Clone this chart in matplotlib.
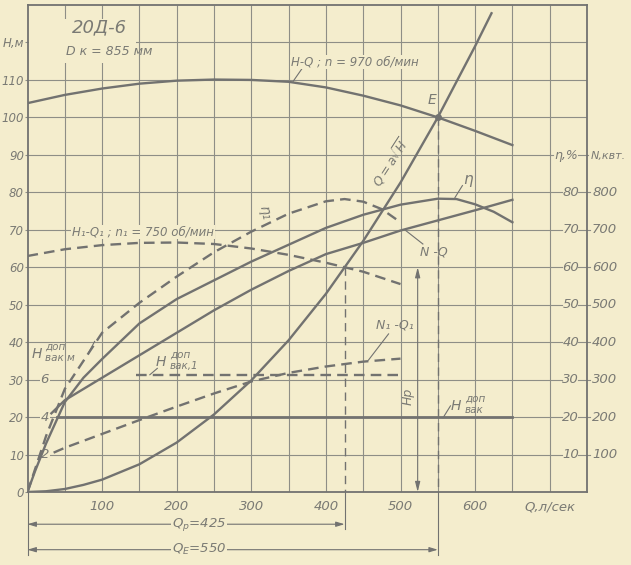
import matplotlib

matplotlib.use("Agg")
import matplotlib.pyplot as plt
from matplotlib import font_manager
from matplotlib.patches import Rectangle

# --- данные (Q в л/сек, H в м, N в квт, η в %) ---

# H-Q при n = 970 об/мин
q_hq = [0, 50, 100, 150, 200, 250, 300, 350, 400, 450, 500, 550, 600, 650]
h_hq = [103.8, 106.0, 107.7, 109.0, 109.8, 110.1, 110.0, 109.5, 108.0, 105.8, 103.2, 100.0, 96.4, 92.6]

# кривая Q = a*sqrt(H)
q_sys = [0, 25, 50, 75, 100, 150, 200, 250, 300, 350, 400, 450, 500, 550, 600, 622]
h_sys = [0, 0.2, 0.8, 1.9, 3.3, 7.4, 13.2, 20.7, 29.8, 40.5, 52.9, 67.0, 82.6, 100.0, 119.0, 127.8]

# КПД при n = 970
q_eta = [0, 10, 25, 50, 75, 100, 150, 200, 250, 300, 350, 400, 450, 500, 550, 575, 600, 625, 650]
eta = [0, 5.5, 13, 24, 30.5, 35.5, 45, 51.5, 56.5, 61.5, 66, 70.5, 74, 76.7, 78.3, 78.2, 76.8, 74.8, 72]

# мощность N-Q
q_n = [32, 50, 100, 150, 200, 250, 300, 350, 400, 450, 500, 550, 600, 650]
n_kw = [210, 245, 305, 365, 425, 485, 540, 590, 635, 665, 698, 725, 752, 780]

# КПД при n1 = 750
q_eta1 = [0, 10, 25, 50, 75, 100, 150, 200, 250, 300, 350, 400, 425, 450, 475, 500]
eta1 = [0, 6, 15, 27.5, 35, 42.5, 50.5, 57.5, 64, 69.5, 74.3, 77.6, 78.2, 77.5, 75.5, 72]

# H1-Q1 при n1 = 750
q_h1 = [0, 50, 100, 150, 200, 250, 300, 350, 400, 425, 450, 500]
h1 = [63.0, 64.8, 65.9, 66.5, 66.6, 66.2, 65.0, 63.3, 61.2, 60.0, 58.8, 55.5]

# N1-Q1
q_n1 = [35, 50, 100, 150, 200, 250, 300, 350, 400, 450, 500]
n1_kw = [105, 118, 155, 192, 228, 263, 295, 318, 335, 348, 356]

# допустимая вакуумметрическая высота
q_vac = [40, 650]
h_vac = [20, 20]
q_vac1 = [145, 497]
h_vac1 = [31.3, 31.3]

q_p, h_p = 425, 60
q_e, h_e = 550, 100
q_hp_arrow = 523

left_ticks = [0, 10, 20, 30, 40, 50, 60, 70, 80, 90, 100, 110, 120]
left_labels = ["0", "10", "20", "30", "40", "50", "60", "70", "80", "90", "100", "110", "H,м"]
bottom_ticks = [100, 200, 300, 400, 500, 600, 700]
bottom_labels = ["100", "200", "300", "400", "500", "600", "Q,л/сек"]
eta_ticks = [10, 20, 30, 40, 50, 60, 70, 80]
n_ticks = [100, 200, 300, 400, 500, 600, 700, 800]
vac_ticks = [10, 20, 30]
vac_labels = ["2", "4", "6"]

# --- стиль ---
names = {f.name for f in font_manager.fontManager.ttflist}
main_font = "Liberation Sans Narrow" if "Liberation Sans Narrow" in names else "DejaVu Sans"
plt.rcParams["font.family"] = [main_font, "DejaVu Sans"]
plt.rcParams["font.style"] = "italic"
plt.rcParams["mathtext.default"] = "it"

bg = "#f4edcd"
ink = "#727270"
grid_c = "#8e8e86"
txt_c = "#7a7a74"
dash = (0, (4.5, 2.6))

fig = plt.figure(figsize=(6.31, 5.65), dpi=100, facecolor=bg)
ax = fig.add_axes([27.5 / 631, 73 / 565, (587 - 27.5) / 631, (492 - 5) / 565])
ax.set_facecolor(bg)
ax.set_xlim(0, 750)
ax.set_ylim(0, 130)

# сетка
ax.vlines(range(50, 701, 50), 0, 130, color=grid_c, lw=0.8, zorder=1)
for h in range(10, 130, 10):
    x_end = 750 if h >= 100 else (705 if h == 90 else 716)
    ax.plot([0, x_end], [h, h], color=grid_c, lw=0.8, zorder=1)
ax.add_patch(Rectangle((2, 114.6), 143, 11.6, facecolor=bg, edgecolor="none", zorder=1.5))

for s in ax.spines.values():
    s.set_color(ink)
    s.set_linewidth(1.3)

ax.set_yticks(left_ticks)
ax.set_yticklabels(left_labels)
ax.set_xticks(bottom_ticks)
ax.set_xticklabels(bottom_labels)
ax.tick_params(axis="y", length=2, width=0.8, color=grid_c, pad=0.5, labelsize=8.5, labelcolor=txt_c)
ax.tick_params(axis="x", length=0, pad=6, labelsize=9.5, labelcolor=txt_c)

# правая шкала η и N
for h, nk in zip(eta_ticks, n_ticks):
    ax.text(717, h, f"{h}", fontsize=9.5, color=txt_c, ha="left", va="center", clip_on=False)
    ax.plot([738, 754], [h, h], color=grid_c, lw=0.8, clip_on=False)
    ax.text(757, h, f"{nk}", fontsize=9.5, color=txt_c, ha="left", va="center", clip_on=False)
ax.text(706, 89.8, "η,%", fontsize=9, color=txt_c, ha="left", va="center", clip_on=False)
ax.plot([738, 752], [90, 90], color=grid_c, lw=0.8, clip_on=False)
ax.text(755, 89.8, "N,квт.", fontsize=8, color=txt_c, ha="left", va="center", clip_on=False)

# шкала вакуума
for h, lab in zip(vac_ticks, vac_labels):
    ax.text(23, h, lab, fontsize=9.5, color=txt_c, ha="center", va="center", zorder=2,
            bbox=dict(facecolor=bg, edgecolor="none", pad=0.6))

# кривые
lw = 1.7
ax.plot(q_hq, h_hq, color=ink, lw=lw, zorder=3)
ax.plot(q_sys, h_sys, color=ink, lw=lw, zorder=3)
ax.plot(q_eta, eta, color=ink, lw=lw, zorder=3)
ax.plot(q_n, [v / 10 for v in n_kw], color=ink, lw=lw, zorder=3)
ax.plot(q_eta1, eta1, color=ink, lw=lw, ls=dash, zorder=3)
ax.plot(q_h1, h1, color=ink, lw=lw, ls=dash, zorder=3)
ax.plot(q_n1, [v / 10 for v in n1_kw], color=ink, lw=lw, ls=dash, zorder=3)
ax.plot(q_vac, h_vac, color=ink, lw=lw + 0.3, zorder=3)
ax.plot(q_vac1, h_vac1, color=ink, lw=lw, ls=dash, zorder=3)

# рабочие точки
ax.plot([q_e, q_e], [h_e, 0], color=ink, lw=1.0, ls=(0, (6, 4)), zorder=2)
ax.plot([q_p, q_p], [h_p, 0], color=ink, lw=1.0, ls=(0, (6, 4)), zorder=2)
ax.plot([q_e], [h_e], "o", color=ink, ms=4, zorder=4)
ax.text(542, 104.6, "E", fontsize=10, color=txt_c, ha="center", va="center")

# размерные линии под осью
ax.plot([0, 0], [0, -16.8], color=ink, lw=0.8, clip_on=False)
ax.plot([q_p, q_p], [0, -9.8], color=ink, lw=0.8, clip_on=False)
ax.plot([q_e, q_e], [0, -16.8], color=ink, lw=0.8, clip_on=False)
for qv, yv, lab in [(q_p, -8.6, r"$Q_p$=425"), (q_e, -15.4, r"$Q_E$=550")]:
    ax.annotate("", xy=(0, yv), xytext=(qv, yv), annotation_clip=False,
                arrowprops=dict(arrowstyle="<|-|>,head_length=0.5,head_width=0.15",
                                color=ink, lw=0.8, shrinkA=0, shrinkB=0))
    ax.text(230, yv, lab, fontsize=9.5, color=txt_c, ha="center", va="center", clip_on=False,
            bbox=dict(facecolor=bg, edgecolor="none", pad=0.5))

# Hp
ax.annotate("", xy=(q_hp_arrow, h_p), xytext=(q_hp_arrow, 0),
            arrowprops=dict(arrowstyle="<|-|>,head_length=0.6,head_width=0.15",
                            color=ink, lw=0.8, shrinkA=0, shrinkB=0))
ax.text(510, 25.4, "Hр", fontsize=9, color=txt_c, rotation=90, ha="center", va="center")

# подписи
ax.text(96, 123.9, "20Д-6", fontsize=13, color=txt_c, ha="center", va="center", zorder=5)
ax.text(110, 117.5, "D к = 855 мм", fontsize=9, color=txt_c, ha="center", va="center", zorder=5)

ax.text(439, 114.8, "H-Q ; n = 970 об/мин", fontsize=8.5, color=txt_c, ha="center", va="center",
        zorder=5, bbox=dict(facecolor=bg, edgecolor="none", pad=0.5))
ax.plot([370, 356], [113.6, 109.6], color=ink, lw=0.8, zorder=4)

ax.text(486, 88, r"$Q=a\sqrt{H}$", fontsize=9, color=txt_c, rotation=57, ha="center", va="center", zorder=5)

ax.text(590, 83.5, "η", fontsize=11, color=txt_c, ha="center", va="center", zorder=5)
ax.plot([583, 573], [81.8, 78.6], color=ink, lw=0.8, zorder=4)

ax.text(318, 74.7, "η₁", fontsize=10, color=txt_c, rotation=-78, ha="center", va="center", zorder=5)

ax.text(155, 69.4, "H₁-Q₁ ; n₁ = 750 об/мин", fontsize=8.5, color=txt_c, ha="center", va="center",
        zorder=5, bbox=dict(facecolor=bg, edgecolor="none", pad=0.5))

ax.text(545, 64, "N -Q", fontsize=9, color=txt_c, ha="center", va="center", zorder=5)
ax.plot([530, 507], [66.2, 69.8], color=ink, lw=0.8, zorder=4)

ax.text(492, 44.6, "N₁ -Q₁", fontsize=9, color=txt_c, ha="center", va="center", zorder=5)
ax.plot([484, 457], [42.2, 35.2], color=ink, lw=0.8, zorder=4)


def vac_label(q, h, sub, dq=16):
    ax.text(q, h, "H", fontsize=10, color=txt_c, ha="center", va="center", zorder=5)
    ax.text(q + dq, h + 1.9, "доп", fontsize=7.5, color=txt_c, ha="left", va="center", zorder=5)
    ax.text(q + dq, h - 1.0, sub, fontsize=7.5, color=txt_c, ha="left", va="center", zorder=5)


vac_label(12, 36.8, "вак м", dq=11)
ax.plot([82, 90], [37.2, 40.2], color=ink, lw=0.8, zorder=4)
vac_label(179, 34.7, "вак,1", dq=12)
ax.plot([174, 164], [33.0, 31.3], color=ink, lw=0.8, zorder=4)
vac_label(574, 23.0, "вак", dq=12)
ax.plot([567, 557], [23.0, 19.8], color=ink, lw=0.8, zorder=4)

fig.savefig("out.png", dpi=100, facecolor=bg)
